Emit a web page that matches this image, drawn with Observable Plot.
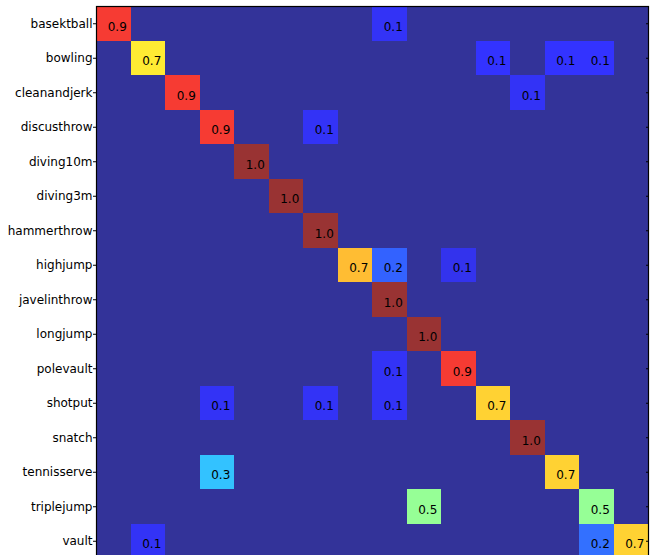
<!DOCTYPE html>
<html><head><meta charset="utf-8">
<script src="https://cdn.jsdelivr.net/npm/d3@7"></script>
<script src="https://cdn.jsdelivr.net/npm/@observablehq/plot@0.6"></script>
<style>html,body{margin:0;padding:0;overflow:hidden;background:#fff}svg{display:block}</style>
</head><body><div id="chart"></div>
<script>
const classes = ["basektball","bowling","cleanandjerk","discusthrow","diving10m","diving3m","hammerthrow","highjump","javelinthrow","longjump","polevault","shotput","snatch","tennisserve","triplejump","vault"];
// rows = true class, columns = predicted class (same order)
const matrix = [
  [0.9,0,0,0,0,0,0,0,0.1,0,0,0,0,0,0,0],
  [0,0.667,0,0,0,0,0,0,0,0,0,0.111,0,0.111,0.111,0],
  [0,0,0.9,0,0,0,0,0,0,0,0,0,0.1,0,0,0],
  [0,0,0,0.9,0,0,0.1,0,0,0,0,0,0,0,0,0],
  [0,0,0,0,1.0,0,0,0,0,0,0,0,0,0,0,0],
  [0,0,0,0,0,1.0,0,0,0,0,0,0,0,0,0,0],
  [0,0,0,0,0,0,1.0,0,0,0,0,0,0,0,0,0],
  [0,0,0,0,0,0,0,0.727,0.182,0,0.091,0,0,0,0,0],
  [0,0,0,0,0,0,0,0,1.0,0,0,0,0,0,0,0],
  [0,0,0,0,0,0,0,0,0,1.0,0,0,0,0,0,0],
  [0,0,0,0,0,0,0,0,0.1,0,0.9,0,0,0,0,0],
  [0,0,0,0.1,0,0,0.1,0,0.1,0,0,0.7,0,0,0,0],
  [0,0,0,0,0,0,0,0,0,0,0,0,1.0,0,0,0],
  [0,0,0,0.3,0,0,0,0,0,0,0,0,0,0.7,0,0],
  [0,0,0,0,0,0,0,0,0,0.5,0,0,0,0,0.5,0],
  [0,0.1,0,0,0,0,0,0,0,0,0,0,0,0,0.2,0.7]
];

// matplotlib "jet" colormap, drawn with alpha 0.8 over white
const jetR = [[0,0],[0.35,0],[0.66,1],[0.89,1],[1,0.5]];
const jetG = [[0,0],[0.125,0],[0.375,1],[0.64,1],[0.91,0],[1,0]];
const jetB = [[0,0.5],[0.11,1],[0.34,1],[0.65,0],[1,0]];
function seg(s, t) {
  for (let i = 1; i < s.length; i++) {
    if (t <= s[i][0]) {
      const [x0, y0] = s[i-1], [x1, y1] = s[i];
      return y0 + (y1 - y0) * (t - x0) / (x1 - x0);
    }
  }
  return s[s.length-1][1];
}
function jet(t) {
  t = Math.max(0, Math.min(1, t));
  const a = 0.8;
  const f = v => Math.round(v * 255 * a + 255 * (1 - a));
  return d3.rgb(f(seg(jetR, t)), f(seg(jetG, t)), f(seg(jetB, t))).formatHex();
}

const cells = classes.flatMap((r, i) => classes.map((c, j) => ({row: r, col: c, value: matrix[i][j]})));
const fmt = d3.format(".1f");

const chart = Plot.plot({
  width: 651,
  height: 555,
  marginLeft: 96,
  marginRight: 3,
  marginTop: 6,
  marginBottom: -3,
  style: {fontFamily: "DejaVu Sans", fontSize: "12px", background: "white", color: "black", overflow: "hidden"},
  x: {domain: classes, axis: null, padding: 0, round: false},
  y: {domain: classes, padding: 0, axis: null, round: false},
  color: {type: "linear", domain: [0, 1], interpolate: jet},
  marks: [
    Plot.cell(cells, {x: "col", y: "row", fill: "value", inset: 0, shapeRendering: "crispEdges"}),
    Plot.text(cells.filter(d => d.value > 0), {x: "col", y: "row", text: d => fmt(d.value), fill: "black", fontSize: 12, dx: 3.5, dy: 3}),
    Plot.axisY({anchor: "left", tickSize: 3, tickPadding: 1, fontSize: 12, label: null}),
    Plot.axisY({anchor: "right", tickSize: 3, dx: -3, tickFormat: () => "", label: null}),
    Plot.frame({stroke: "black", strokeWidth: 1.2})
  ]
});
document.getElementById("chart").appendChild(chart);
</script>
</body></html>
